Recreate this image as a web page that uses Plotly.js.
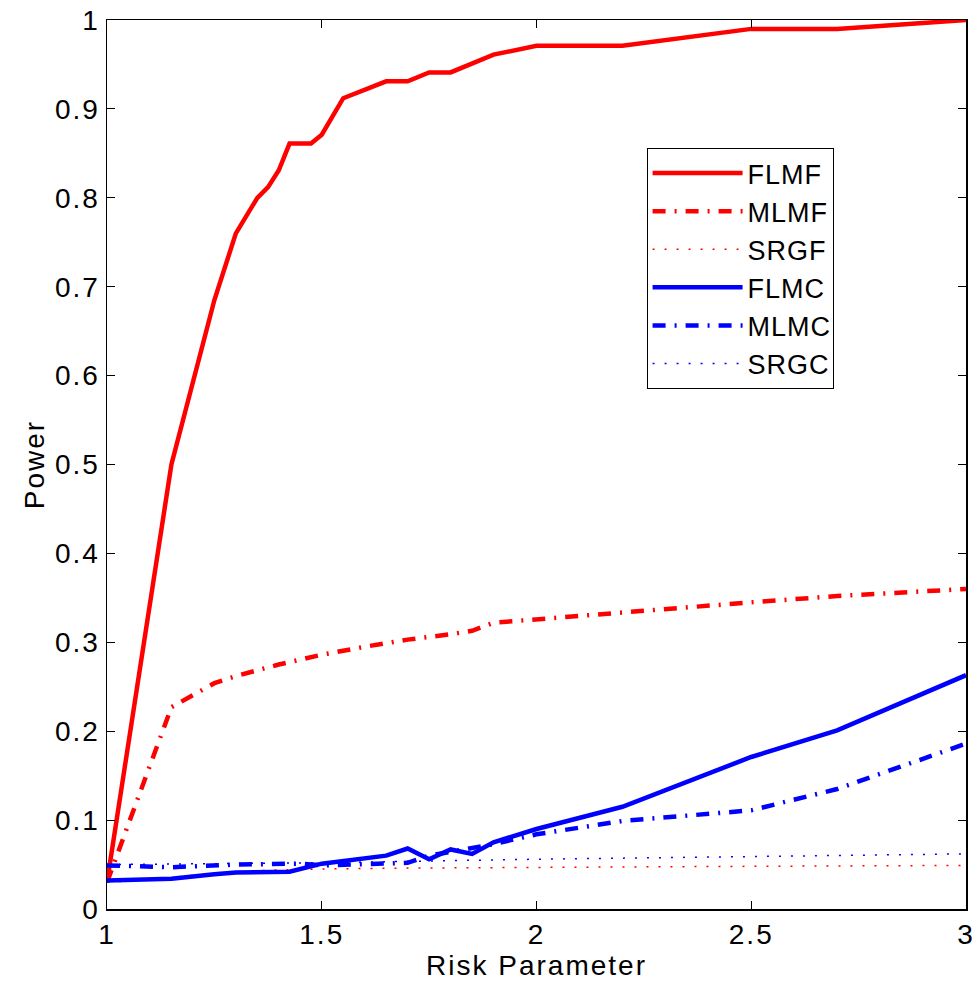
<!DOCTYPE html>
<html>
<head>
<meta charset="utf-8">
<script src="https://cdn.plot.ly/plotly-3.0.1.min.js"></script>
<style>
html,body{margin:0;padding:0;background:#fff;}
#chart{width:980px;height:991px;}
#chart text{letter-spacing:2px;}
#chart .legend text{letter-spacing:1px;}
</style>
</head>
<body>
<div id="chart"></div>
<script>
// FLMF
const xFLMF = [1, 1.15, 1.25, 1.3, 1.35, 1.375, 1.4, 1.425, 1.45, 1.475, 1.5, 1.55, 1.65, 1.7, 1.75, 1.8, 1.9, 2, 2.2, 2.5, 2.7, 3];
const yFLMF = [0.03, 0.5, 0.685, 0.76, 0.80, 0.812, 0.831, 0.861, 0.861, 0.861, 0.871, 0.912, 0.931, 0.931, 0.941, 0.941, 0.961, 0.971, 0.971, 0.99, 0.99, 1.0];
// MLMF
const xMLMF = [1, 1.15, 1.25, 1.3, 1.4, 1.5, 1.6, 1.7, 1.8, 1.85, 1.9, 2, 2.2, 2.5, 2.7, 3];
const yMLMF = [0.03, 0.227, 0.254, 0.262, 0.275, 0.286, 0.295, 0.303, 0.309, 0.313, 0.322, 0.326, 0.334, 0.345, 0.352, 0.36];
// SRGF
const xSRGF = [1, 1.1, 1.2, 1.3, 1.4, 1.5, 1.7, 2, 2.5, 3];
const ySRGF = [0.03, 0.033, 0.038, 0.042, 0.044, 0.045, 0.046, 0.047, 0.048, 0.049];
// FLMC
const xFLMC = [1, 1.15, 1.25, 1.3, 1.425, 1.45, 1.5, 1.65, 1.7, 1.75, 1.8, 1.85, 1.9, 2, 2.2, 2.5, 2.7, 3];
const yFLMC = [0.032, 0.034, 0.039, 0.041, 0.042, 0.045, 0.051, 0.06, 0.068, 0.056, 0.067, 0.062, 0.075, 0.09, 0.115, 0.171, 0.201, 0.263];
// MLMC
const xMLMC = [1, 1.15, 1.3, 1.45, 1.5, 1.6, 1.7, 1.75, 1.85, 1.9, 2, 2.2, 2.5, 2.7, 3];
const yMLMC = [0.049, 0.047, 0.05, 0.051, 0.049, 0.05, 0.052, 0.06, 0.068, 0.073, 0.084, 0.099, 0.111, 0.135, 0.186];
// SRGC
const xSRGC = [1, 1.5, 2, 2.5, 3];
const ySRGC = [0.05, 0.052, 0.056, 0.059, 0.062];

const seriesNames = ['FLMF', 'MLMF', 'SRGF', 'FLMC', 'MLMC', 'SRGC'];
const xTicks = [1, 1.5, 2, 2.5, 3];
const xTickText = ['1', '1.5', '2', '2.5', '3'];
const yTicks = [0, 0.1, 0.2, 0.3, 0.4, 0.5, 0.6, 0.7, 0.8, 0.9, 1];
const yTickText = ['0', '0.1', '0.2', '0.3', '0.4', '0.5', '0.6', '0.7', '0.8', '0.9', '1'];

const RED = '#ff0000', BLUE = '#0000ff';
const DASHDOT = '13px,9px,2px,9px';
const DOT = '2px,10px';

const traces = [
  {x: xFLMF, y: yFLMF, name: seriesNames[0], line: {color: RED, width: 4.5}},
  {x: xMLMF, y: yMLMF, name: seriesNames[1], line: {color: RED, width: 4.5, dash: DASHDOT}},
  {x: xSRGF, y: ySRGF, name: seriesNames[2], line: {color: RED, width: 1.5, dash: DOT}},
  {x: xFLMC, y: yFLMC, name: seriesNames[3], line: {color: BLUE, width: 4.5}},
  {x: xMLMC, y: yMLMC, name: seriesNames[4], line: {color: BLUE, width: 4.5, dash: DASHDOT}},
  {x: xSRGC, y: ySRGC, name: seriesNames[5], line: {color: BLUE, width: 1.5, dash: DOT}}
].map(t => Object.assign({type: 'scatter', mode: 'lines'}, t));

const FONT = 'Liberation Sans, Arial, sans-serif';
const FS = 28;

const layout = {
  width: 980, height: 991,
  paper_bgcolor: '#fff', plot_bgcolor: '#fff',
  margin: {l: 107, r: 14, t: 20, b: 82},
  font: {family: FONT, size: FS, color: '#000'},
  showlegend: true,
  legend: {
    x: 0.737, y: 0.7205, xanchor: 'center', yanchor: 'middle',
    bordercolor: '#000', borderwidth: 1, bgcolor: '#fff',
    font: {family: FONT, size: 27, color: '#000'},
    itemwidth: 90,
    tracegroupgap: 0
  },
  xaxis: {
    range: [1, 3], tickvals: xTicks, ticktext: xTickText,
    ticks: 'inside', ticklen: 8, tickwidth: 1, tickcolor: '#000',
    showline: true, linecolor: '#000', linewidth: 1.5, mirror: 'ticks',
    showgrid: false, zeroline: false,
    tickfont: {family: FONT, size: FS, color: '#000'},
    title: {text: 'Risk Parameter', font: {family: FONT, size: FS, color: '#000'}, standoff: 6}
  },
  yaxis: {
    range: [0, 1], tickvals: yTicks, ticktext: yTickText,
    ticks: 'inside', ticklen: 8, tickwidth: 1, tickcolor: '#000',
    showline: true, linecolor: '#000', linewidth: 1.5, mirror: 'ticks',
    showgrid: false, zeroline: false,
    tickfont: {family: FONT, size: FS, color: '#000'},
    title: {text: 'Power', font: {family: FONT, size: FS, color: '#000'}, standoff: 8}
  }
};

Plotly.newPlot('chart', traces, layout, {displayModeBar: false, staticPlot: true});
</script>
</body>
</html>
